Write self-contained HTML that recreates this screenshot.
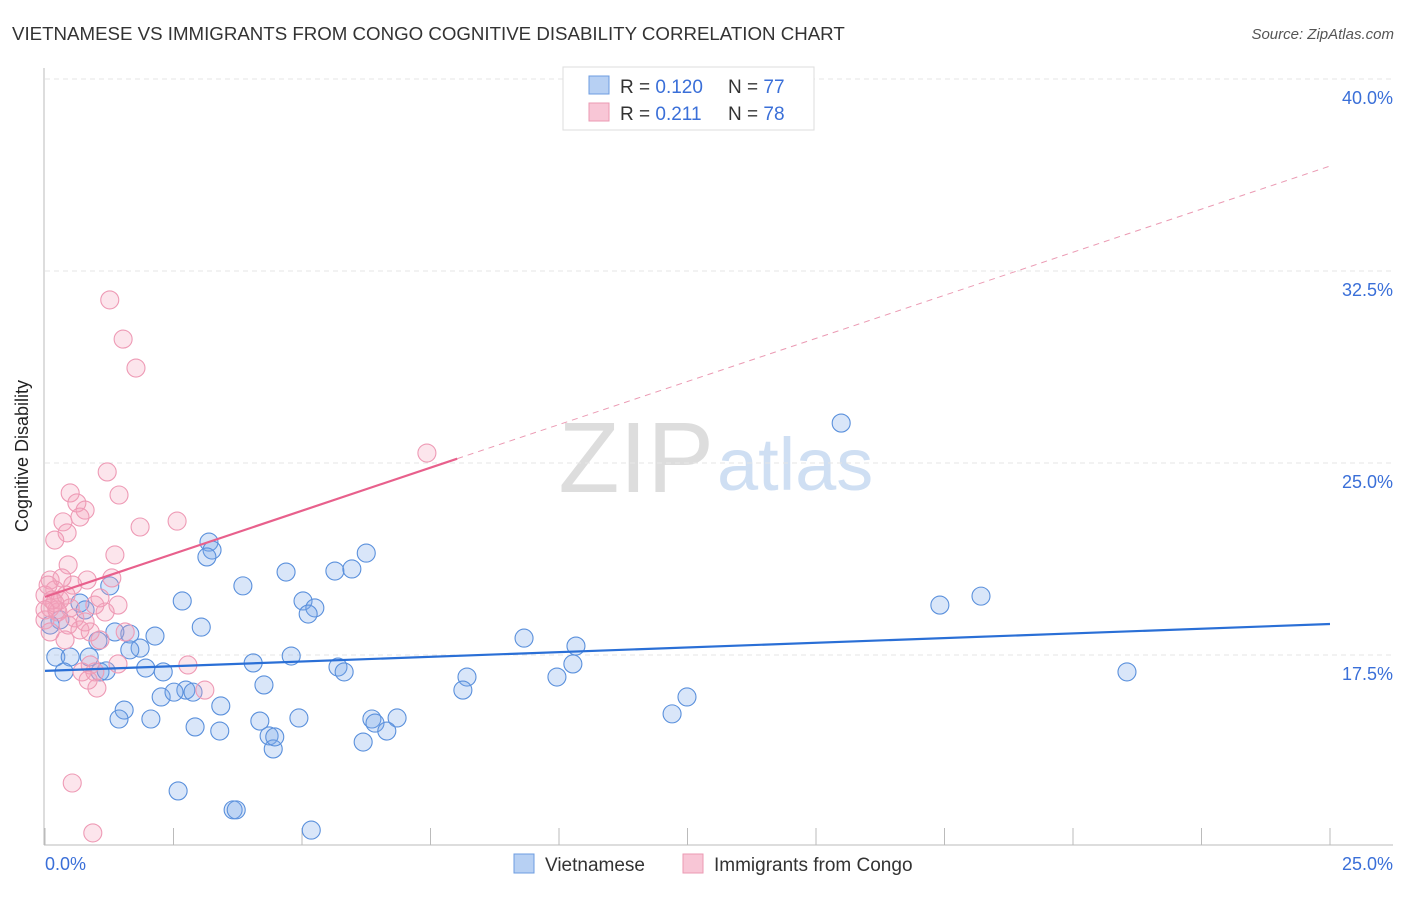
<!DOCTYPE html>
<html><head><meta charset="utf-8"><style>
body{margin:0;background:#fff;font-family:"Liberation Sans",sans-serif;}
svg text{font-family:"Liberation Sans",sans-serif;}
</style></head><body>
<svg id="chart" width="1406" height="892">
<text x="12" y="40" font-size="18.7" fill="#333">VIETNAMESE VS IMMIGRANTS FROM CONGO COGNITIVE DISABILITY CORRELATION CHART</text>
<text x="1394" y="39" font-size="15" fill="#555" font-style="italic" text-anchor="end">Source: ZipAtlas.com</text>
<text x="714" y="492" font-size="100" fill="#ddd" text-anchor="end" font-family="Liberation Serif">ZIP</text>
<text x="717" y="490" font-size="74" fill="#cfdff3">atlas</text>
<g id="grid"></g>
<line x1="44" y1="68" x2="44" y2="845" stroke="#bbb"/>
<line x1="44" y1="845" x2="1393" y2="845" stroke="#bbb"/>
<text x="28" y="456" font-size="18" fill="#222" text-anchor="middle" transform="rotate(-90 28 456)">Cognitive Disability</text>
<text x="45" y="870" font-size="18" fill="#3a6fd8">0.0%</text>
<text x="1393" y="870" font-size="18" fill="#3a6fd8" text-anchor="end">25.0%</text>
<g id="marks"></g>
<g>
<rect x="563" y="67" width="251" height="63" fill="#fff" stroke="#ddd"/>
<rect x="589" y="76" width="20" height="18" fill="#b7d0f3" stroke="#6d9ce0"/>
<rect x="589" y="103" width="20" height="18" fill="#f8c6d6" stroke="#eb9ab3"/>
<text x="620" y="93" font-size="19" fill="#333">R = <tspan fill="#3a6fd8">0.120</tspan></text>
<text x="728" y="93" font-size="19" fill="#333">N = <tspan fill="#3a6fd8">77</tspan></text>
<text x="620" y="120" font-size="19" fill="#333">R =  <tspan fill="#3a6fd8">0.211</tspan></text>
<text x="728" y="120" font-size="19" fill="#333">N = <tspan fill="#3a6fd8">78</tspan></text>
</g>
<g>
<rect x="514" y="854" width="20" height="19" fill="#b7d0f3" stroke="#6d9ce0"/>
<text x="545" y="871" font-size="19" fill="#333">Vietnamese</text>
<rect x="683" y="854" width="20" height="19" fill="#f8c6d6" stroke="#eb9ab3"/>
<text x="714" y="871" font-size="19" fill="#333">Immigrants from Congo</text>
</g>
</svg>
<script>
const yTicks=[17.5,25.0,32.5,40.0];
const xTicks=[0,2.5,5,7.5,10,12.5,15,17.5,20,22.5,25];
const blueX=[3.19,3.25,3.15,3.85,4.69,5.64,5.97,6.25,2.67,5.02,5.25,5.12,3.04,1.26,0.68,1.03,1.65,2.14,1.36,1.85,0.86,0.21,0.49,0.37,1.07,1.19,1.96,2.30,4.05,4.79,5.70,5.82,4.26,2.74,2.26,2.51,2.88,3.42,1.54,1.44,2.06,2.92,3.40,4.18,4.94,6.36,6.42,6.85,6.65,4.36,4.44,4.47,6.19,2.59,3.66,3.72,5.18,8.21,8.13,9.32,10.33,10.27,9.96,12.49,12.20,15.49,17.41,18.21,21.05,0.29,0.10,0.78,1.65];
const blueY=[21.91,21.60,21.33,20.20,20.74,20.78,20.86,21.48,19.61,19.61,19.34,19.10,18.59,20.20,19.53,18.05,18.32,18.24,18.40,17.77,17.42,17.42,17.42,16.84,16.84,16.88,16.99,16.84,17.19,17.46,17.03,16.84,16.33,16.13,15.86,16.05,16.05,15.51,15.35,15.00,15.00,14.69,14.53,14.92,15.04,15.00,14.84,15.04,14.53,14.34,13.83,14.30,14.10,12.19,11.45,11.45,10.66,16.64,16.13,18.16,17.85,17.15,16.64,15.86,15.20,26.56,19.45,19.80,16.84,18.87,18.67,19.26,17.70];
const pinkX=[1.26,1.52,1.77,7.43,1.21,0.49,1.44,0.62,0.78,0.68,0.35,0.43,0.19,1.85,2.57,1.36,0.45,0.10,0.33,0.54,0.82,1.30,0.19,0,0.29,0.97,1.42,0.10,0.25,0,0.45,0.68,0.88,0.10,0.39,1.56,1.07,1.42,2.78,0.88,0.97,0.72,3.11,1.01,0.84,0.53,0.93,0.23,0.58,0.14,0.41,0.06,0.19,0.78,1.17,0,0.49,1.07];
const pinkY=[31.37,29.84,28.71,25.39,24.65,23.83,23.75,23.44,23.16,22.89,22.70,22.27,21.99,22.50,22.73,21.41,21.02,20.43,20.51,20.23,20.43,20.51,20.04,19.84,19.65,19.45,19.45,19.34,19.18,18.87,18.67,18.48,18.40,18.40,18.09,18.40,18.09,17.15,17.11,17.11,16.84,16.84,16.13,16.21,16.52,12.50,10.55,19.26,18.95,19.65,19.84,20.23,19.53,18.79,19.18,19.26,19.34,19.73];
const blueTrend=[16.88,18.71];
const pinkTrend=[19.77,36.6];
const pinkSolidEnd=8.02;
const NS="http://www.w3.org/2000/svg";
const sx=v=>45+v*51.4;
const sy=v=>655-(v-17.5)*25.6;
const grid=document.getElementById('grid'),marks=document.getElementById('marks');
function mk(tag,attrs,parent){const e=document.createElementNS(NS,tag);for(const k in attrs)e.setAttribute(k,attrs[k]);parent.appendChild(e);return e;}
yTicks.forEach(t=>{
 const l=mk('line',{x1:45,x2:1393,y1:sy(t),y2:sy(t),stroke:'#e6e6e6','stroke-dasharray':'5,4'},grid);
 
 
 const tx=mk('text',{x:1393,y:sy(t)+25,'font-size':18,fill:'#3a6fd8','text-anchor':'end'},grid);
 tx.textContent=t.toFixed(1)+'%';
 
 
});
xTicks.forEach(t=>{
 const l=mk('line',{x1:sx(t),x2:sx(t),y1:828,y2:845,stroke:'#bbb'},grid);
 
 
});
blueX.forEach((x,i)=>{
 const c=mk('circle',{cx:sx(x),cy:sy(blueY[i]),r:9,fill:'rgba(120,165,235,0.28)',stroke:'#5a90dc','stroke-width':1.1},marks);
 
 
});
pinkX.forEach((x,i)=>{
 const c=mk('circle',{cx:sx(x),cy:sy(pinkY[i]),r:9,fill:'rgba(245,160,185,0.28)',stroke:'#ee9ab5','stroke-width':1.1},marks);
 
 
});
const bl=mk('line',{x1:sx(0),y1:sy(blueTrend[0]),x2:sx(25),y2:sy(blueTrend[1]),stroke:'#2a6fd6','stroke-width':2.2},marks);


const py=x=>pinkTrend[0]+(pinkTrend[1]-pinkTrend[0])*x/25;
const pl=mk('line',{x1:sx(0),y1:sy(py(0)),x2:sx(pinkSolidEnd),y2:sy(py(pinkSolidEnd)),stroke:'#e8608c','stroke-width':2.2},marks);


const pd=mk('line',{x1:sx(pinkSolidEnd),y1:sy(py(pinkSolidEnd)),x2:sx(25),y2:sy(py(25)),stroke:'#eb9ab3','stroke-width':1,'stroke-dasharray':'6,5'},marks);


</script>
</body></html>
